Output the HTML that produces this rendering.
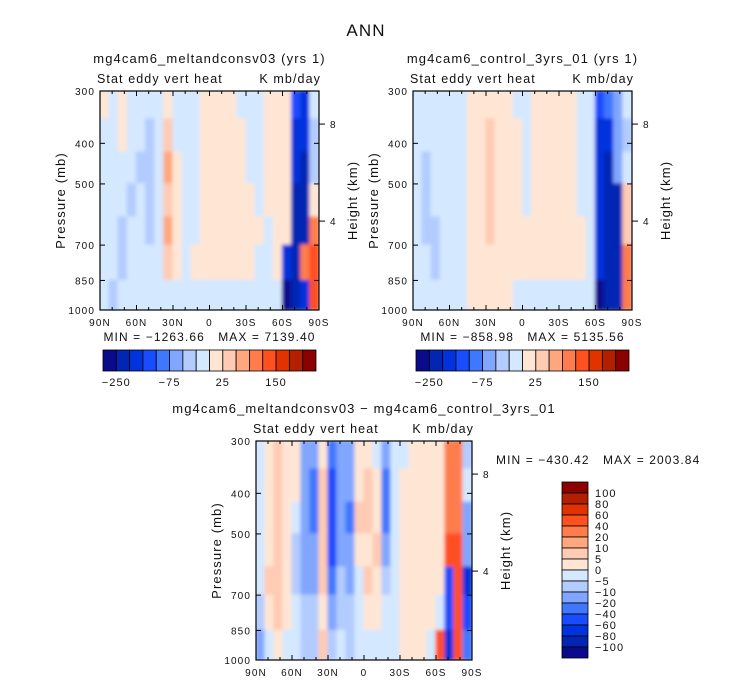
<!DOCTYPE html>
<html><head><meta charset="utf-8">
<style>
html,body{margin:0;padding:0;background:#fff;}
svg text{font-family:"Liberation Sans",sans-serif;fill:#111;letter-spacing:1.1px;white-space:pre;}
</style></head>
<body>
<svg id="chart" width="732" height="684" viewBox="0 0 732 684" xmlns="http://www.w3.org/2000/svg">
<defs>
<filter id="soft" x="-5%" y="-5%" width="110%" height="110%"><feGaussianBlur stdDeviation="1.8"/></filter>
</defs>
<text x="366" y="36" font-size="17" text-anchor="middle">ANN</text>
</svg>
<script>
// ---- data ----
const palette = ["#0a0a8c","#0026b3","#0033dd","#1a4cff","#4077ff","#80a6ff","#b3ccff","#d4e8ff","#ffe6d4","#ffcbb3","#ffa880","#ff7d4d","#ff5020","#e03300","#b32000","#8b0000"];
const latEdges = [90,82.5,75,67.5,60,52.5,45,37.5,30,22.5,15,7.5,0,-7.5,-15,-22.5,-30,-37.5,-45,-52.5,-60,-67.5,-75,-82.5,-90];
const presEdges = [300,350,420,500,600,700,850,1000];
const fieldA = [
 "878777787778888777888327",
 "778776797778888877888226",
 "7777667a8778888877888216",
 "777676798778888887888118",
 "7767767a877888888878811b",
 "7767777987888888877821bc",
 "76777777777777777777012c"
];
const fieldB = [
 "777777888887788888773457",
 "777777889888788888772256",
 "767777889888788888772157",
 "767777889888788888772119",
 "766777889888888888872119",
 "77677788888888888887211b",
 "77777788888777777777011b"
];
const fieldC = [
 "789885584558875778888bb6",
 "789885493558984788888bb7",
 "789875493549984788888bb5",
 "789865593558895788888cc5",
 "7998655946579867888883c2",
 "6898766856678877888873c3",
 "57877669676777778887c2c4"
];
const pTicks = [300,400,500,700,850,1000];
const latTicks = [90,60,30,0,-30,-60,-90];
const latLabels = ["90N","60N","30N","0","30S","60S","90S"];
const hTicks = [8,4];
const hFrac = [0.151,0.594];
const cbLabelsTop = ["\u2212250","\u221275","25","150"];
const cbLabelIdxTop = [1,5,9,13];
const cbLabelsBottom = ["100","80","60","40","20","10","5","0","\u22125","\u221210","\u221220","\u221240","\u221260","\u221280","\u2212100"];

// ---- drawing ----
const svg = document.getElementById('chart');
const NS = "http://www.w3.org/2000/svg";
function mk(tag, attrs, parent){
  const e = document.createElementNS(NS, tag);
  for (const k in attrs) e.setAttribute(k, attrs[k]);
  (parent||svg).appendChild(e);
  return e;
}
function txt(s, x, y, size, anchor, parent, rot){
  const t = mk('text', {x:x, y:y, 'font-size':size, 'text-anchor':anchor||'start'}, parent);
  if (rot) t.setAttribute('transform', 'rotate(' + rot + ' ' + x + ' ' + y + ')');
  t.textContent = s;
  return t;
}

function panel(name, x0, y0, w, h, field, title, minmax, clipId){
  const g = mk('g', {});
  
  
  const xs = lat => x0 + (90 - lat) / 180 * w;
  const ys = p => y0 + h * Math.log(p/300) / Math.log(1000/300);
  const cp = mk('clipPath', {id: clipId}, g);
  mk('rect', {x:x0, y:y0, width:w, height:h}, cp);
  const cells = mk('g', {'clip-path':'url(#' + clipId + ')'}, g);
  
  
  mk('rect', {x:x0, y:y0, width:w, height:h, fill:palette[7]}, cells);
  const inner = mk('g', {filter:'url(#soft)'}, cells);
  for (let r = 0; r < field.length; r++){
    const row = field[r];
    for (let c = 0; c < latEdges.length - 1 && c < row.length; c++){
      const idx = parseInt(row[c], 16);
      const xa = xs(latEdges[c]) - 0.6, xb = xs(latEdges[c+1]) + 0.6;
      const ya = ys(presEdges[r]) - 0.6, yb = ys(presEdges[r+1]) + 0.6;
      const cell = mk('rect', {x:xa, y:ya, width:xb-xa, height:yb-ya, fill:palette[idx]}, inner);
      
      
    }
  }
  mk('rect', {x:x0, y:y0, width:w, height:h, fill:'none', stroke:'#000', 'stroke-width':1.2}, g);
  for (let lat = 90; lat >= -90; lat -= 10){
    const major = lat % 30 === 0;
    const L = major ? 5 : 3;
    mk('line', {x1:xs(lat), x2:xs(lat), y1:y0+h, y2:y0+h-L, stroke:'#000'}, g);
    mk('line', {x1:xs(lat), x2:xs(lat), y1:y0, y2:y0+L, stroke:'#000'}, g);
  }
  latTicks.forEach((lat,i)=>{
    const t = txt(latLabels[i], xs(lat), y0+h+16, 10, 'middle', g);
    
    
  });
  pTicks.forEach(p=>{
    mk('line', {x1:x0, x2:x0+5, y1:ys(p), y2:ys(p), stroke:'#000'}, g);
    mk('line', {x1:x0+w, x2:x0+w-5, y1:ys(p), y2:ys(p), stroke:'#000'}, g);
    const t = txt(String(p), x0-5, ys(p)+4, 10, 'end', g);
    
    
  });
  hTicks.forEach((hk,i)=>{
    const yy = y0 + h*hFrac[i];
    mk('line', {x1:x0+w, x2:x0+w+6, y1:yy, y2:yy, stroke:'#000'}, g);
    const t = txt(String(hk), x0+w+11, yy+4, 10, 'start', g);
    
    
  });
  const yt = txt('Pressure (mb)', x0-35, y0+h/2, 13, 'middle', g, -90);
  
  
  const ht = txt('Height (km)', x0+w+38, y0+h/2, 13, 'middle', g, -90);
  
  
  const l1 = txt('Stat eddy vert heat', x0-3, y0-8, 12.5, 'start', g);
  
  
  const l2 = txt('K mb/day', x0+w+2, y0-8, 12.5, 'end', g);
  
  
  const tt = txt(title, x0+w/2, y0-28, 13, 'middle', g);
  
  
  if (minmax){
    const mm = txt(minmax, x0+w/2, y0+h+31, 12, 'middle', g);
    
    
  }
}

function hColorbar(name, x0, y0, w, h){
  const g = mk('g', {});
  
  
  const bw = w / palette.length;
  palette.forEach((c,i)=>{
    const r = mk('rect', {x:x0+i*bw, y:y0, width:bw, height:h, fill:c, stroke:'#000', 'stroke-width':0.8}, g);
    
    
  });
  cbLabelsTop.forEach((s,i)=>{
    const t = txt(s, x0 + cbLabelIdxTop[i]*bw, y0+h+15, 11, 'middle', g);
    
    
  });
}
function vColorbar(name, x0, y0, w, h){
  const g = mk('g', {});
  
  
  const bh = h / palette.length;
  for (let i = 0; i < palette.length; i++){
    const r = mk('rect', {x:x0, y:y0+i*bh, width:w, height:bh, fill:palette[palette.length-1-i], stroke:'#000', 'stroke-width':0.8}, g);
    
    
  }
  cbLabelsBottom.forEach((s,i)=>{
    const t = txt(s, x0+w+7, y0+(i+1)*bh+4, 11, 'start', g);
    
    
  });
}

panel('panel-meltandconsv03', 100, 91, 219, 219, fieldA, 'mg4cam6_meltandconsv03 (yrs 1)', 'MIN = \u22121263.66   MAX = 7139.40', 'clipA');
panel('panel-control', 413, 91, 219, 219, fieldB, 'mg4cam6_control_3yrs_01 (yrs 1)', 'MIN = \u2212858.98   MAX = 5135.56', 'clipB');
panel('panel-difference', 256, 441, 216, 219, fieldC, 'mg4cam6_meltandconsv03 \u2212 mg4cam6_control_3yrs_01', null, 'clipC');
hColorbar('colorbar-top-left', 103, 350, 213, 21);
hColorbar('colorbar-top-right', 416, 350, 213, 21);
vColorbar('colorbar-difference', 562, 482, 26, 176);
const mmC = txt('MIN = \u2212430.42   MAX = 2003.84', 496, 464, 12, 'start');


</script>
</body></html>
